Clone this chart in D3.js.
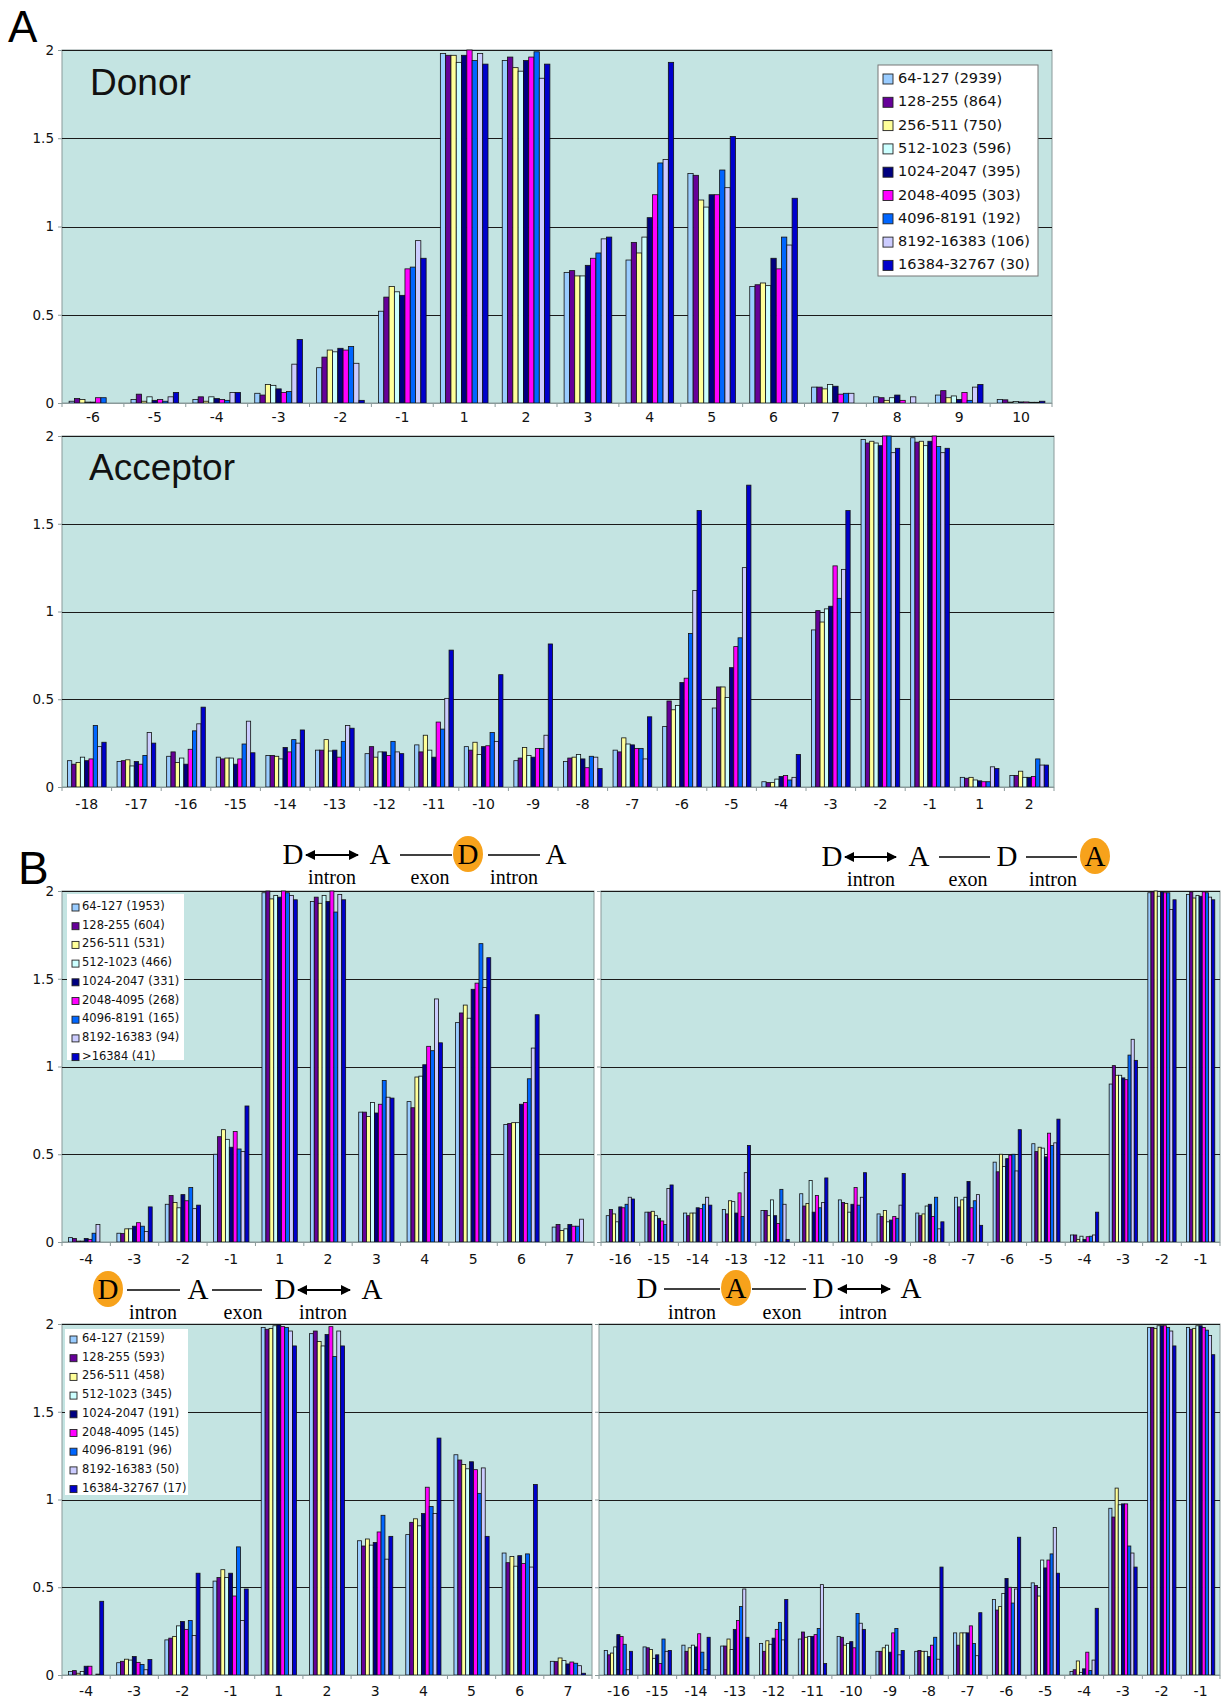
<!DOCTYPE html>
<html>
<head>
<meta charset="utf-8">
<script src="https://cdn.jsdelivr.net/npm/d3@7"></script>
<style>
  body { margin: 0; background: #fff; }
  svg { display: block; }
</style>
</head>
<body>
<div id="chart"></div>
<script>
// series colours (Excel palette of the original figure)
var colors = ["#99ccff", "#660099", "#ffff99", "#ccffff", "#000080", "#ff00ff", "#0066ff", "#ccccff", "#0000cc"];

var legendA = ["64-127 (2939)", "128-255 (864)", "256-511 (750)", "512-1023 (596)", "1024-2047 (395)",
  "2048-4095 (303)", "4096-8191 (192)", "8192-16383 (106)", "16384-32767 (30)"];
var legendB1 = ["64-127 (1953)", "128-255 (604)", "256-511 (531)", "512-1023 (466)", "1024-2047 (331)",
  "2048-4095 (268)", "4096-8191 (165)", "8192-16383 (94)", ">16384 (41)"];
var legendB3 = ["64-127 (2159)", "128-255 (593)", "256-511 (458)", "512-1023 (345)", "1024-2047 (191)",
  "2048-4095 (145)", "4096-8191 (96)", "8192-16383 (50)", "16384-32767 (17)"];

var yTicks = [0, 0.5, 1, 1.5, 2];

// A - donor
var donorCats = ["-6", "-5", "-4", "-3", "-2", "-1", "1", "2", "3", "4", "5", "6", "7", "8", "9", "10"];
var donorVals = [
  [0.01, 0.025, 0.02, 0.005, 0.005, 0.03, 0.03, 0.0, 0.0],
  [0.02, 0.05, 0.01, 0.035, 0.015, 0.02, 0.01, 0.035, 0.06],
  [0.02, 0.035, 0.01, 0.035, 0.025, 0.02, 0.015, 0.06, 0.06],
  [0.055, 0.045, 0.105, 0.1, 0.08, 0.06, 0.065, 0.22, 0.36],
  [0.2, 0.26, 0.3, 0.29, 0.31, 0.3, 0.32, 0.225, 0.015],
  [0.52, 0.6, 0.66, 0.63, 0.61, 0.76, 0.77, 0.92, 0.82],
  [1.98, 1.97, 1.97, 1.93, 1.97, 2.0, 1.94, 1.98, 1.92],
  [1.94, 1.96, 1.9, 1.88, 1.94, 1.96, 1.99, 1.84, 1.92],
  [0.74, 0.75, 0.72, 0.72, 0.78, 0.82, 0.85, 0.93, 0.94],
  [0.81, 0.91, 0.85, 0.94, 1.05, 1.18, 1.36, 1.38, 1.93],
  [1.3, 1.29, 1.15, 1.11, 1.18, 1.18, 1.32, 1.22, 1.51],
  [0.66, 0.67, 0.68, 0.665, 0.82, 0.76, 0.94, 0.895, 1.16],
  [0.09, 0.09, 0.08, 0.105, 0.095, 0.05, 0.055, 0.055, 0.0],
  [0.035, 0.03, 0.015, 0.03, 0.045, 0.015, 0.0, 0.035, 0.0],
  [0.045, 0.07, 0.03, 0.04, 0.02, 0.06, 0.015, 0.09, 0.105],
  [0.02, 0.018, 0.005, 0.008, 0.006, 0.006, 0.004, 0.004, 0.01]
];

// A - acceptor
var accCats = ["-18", "-17", "-16", "-15", "-14", "-13", "-12", "-11", "-10", "-9", "-8", "-7", "-6", "-5", "-4", "-3", "-2", "-1", "1", "2"];
var accVals = [
  [0.15, 0.13, 0.14, 0.17, 0.15, 0.16, 0.35, 0.23, 0.255],
  [0.145, 0.15, 0.155, 0.12, 0.145, 0.13, 0.18, 0.31, 0.25],
  [0.175, 0.2, 0.14, 0.165, 0.13, 0.215, 0.32, 0.36, 0.455],
  [0.17, 0.16, 0.165, 0.165, 0.13, 0.16, 0.245, 0.375, 0.195],
  [0.18, 0.18, 0.175, 0.16, 0.225, 0.2, 0.27, 0.25, 0.325],
  [0.21, 0.21, 0.27, 0.205, 0.21, 0.17, 0.26, 0.35, 0.335],
  [0.19, 0.23, 0.17, 0.2, 0.2, 0.18, 0.26, 0.2, 0.19],
  [0.24, 0.2, 0.295, 0.21, 0.17, 0.37, 0.33, 0.505, 0.78],
  [0.23, 0.21, 0.255, 0.185, 0.23, 0.235, 0.31, 0.26, 0.64],
  [0.15, 0.165, 0.225, 0.18, 0.17, 0.22, 0.22, 0.295, 0.815],
  [0.145, 0.165, 0.17, 0.185, 0.16, 0.11, 0.175, 0.17, 0.105],
  [0.21, 0.2, 0.28, 0.245, 0.24, 0.22, 0.22, 0.16, 0.40],
  [0.345, 0.49, 0.44, 0.465, 0.595, 0.62, 0.875, 1.12, 1.575],
  [0.45, 0.57, 0.57, 0.51, 0.68, 0.80, 0.85, 1.25, 1.72],
  [0.03, 0.025, 0.025, 0.045, 0.06, 0.065, 0.04, 0.055, 0.185],
  [0.895, 1.005, 0.94, 1.015, 1.03, 1.26, 1.075, 1.24, 1.575],
  [1.98, 1.96, 1.97, 1.96, 1.945, 2.0, 2.0, 1.905, 1.93],
  [1.99, 1.965, 1.97, 1.945, 1.97, 2.0, 1.94, 1.905, 1.93],
  [0.055, 0.05, 0.055, 0.04, 0.035, 0.03, 0.03, 0.115, 0.105],
  [0.065, 0.065, 0.09, 0.055, 0.055, 0.06, 0.16, 0.125, 0.125]
];

// B - donor side (top left / bottom left)
var bDonorCats = ["-4", "-3", "-2", "-1", "1", "2", "3", "4", "5", "6", "7"];
var b1Vals = [
  [0.025, 0.02, 0.005, 0.005, 0.02, 0.015, 0.05, 0.1, 0.0],
  [0.05, 0.048, 0.075, 0.075, 0.09, 0.11, 0.09, 0.06, 0.2],
  [0.215, 0.265, 0.225, 0.195, 0.27, 0.235, 0.31, 0.19, 0.21],
  [0.5, 0.6, 0.64, 0.585, 0.54, 0.63, 0.53, 0.515, 0.775],
  [1.99, 2.0, 1.955, 1.975, 1.965, 2.0, 1.99, 1.975, 1.95],
  [1.94, 1.965, 1.93, 1.975, 1.94, 2.0, 1.88, 1.98, 1.95],
  [0.74, 0.74, 0.715, 0.795, 0.735, 0.785, 0.92, 0.825, 0.82],
  [0.8, 0.765, 0.94, 0.945, 1.01, 1.115, 1.09, 1.385, 1.135],
  [1.25, 1.305, 1.35, 1.275, 1.44, 1.475, 1.70, 1.45, 1.62],
  [0.67, 0.675, 0.68, 0.68, 0.785, 0.795, 0.93, 1.105, 1.295],
  [0.085, 0.1, 0.065, 0.075, 0.1, 0.09, 0.09, 0.13, 0.0]
];
var b3Vals = [
  [0.02, 0.025, 0.01, 0.02, 0.05, 0.05, 0.0, 0.005, 0.42],
  [0.07, 0.078, 0.09, 0.085, 0.105, 0.072, 0.06, 0.03, 0.088],
  [0.2, 0.21, 0.22, 0.28, 0.305, 0.26, 0.31, 0.225, 0.58],
  [0.535, 0.555, 0.6, 0.555, 0.58, 0.45, 0.73, 0.31, 0.49],
  [1.98, 1.97, 1.975, 1.99, 1.995, 1.985, 1.98, 1.96, 1.875],
  [1.945, 1.96, 1.9, 1.875, 1.94, 1.985, 1.815, 1.96, 1.875],
  [0.765, 0.735, 0.775, 0.74, 0.755, 0.815, 0.91, 0.66, 0.79],
  [0.8, 0.87, 0.89, 0.85, 0.92, 1.07, 0.96, 0.92, 1.35],
  [1.255, 1.225, 1.2, 1.175, 1.215, 1.17, 1.035, 1.18, 0.79],
  [0.695, 0.64, 0.675, 0.62, 0.68, 0.635, 0.69, 0.615, 1.085],
  [0.078, 0.076, 0.097, 0.082, 0.063, 0.074, 0.067, 0.053, 0.01]
];

// B - acceptor side (top right / bottom right)
var bAccCats = ["-16", "-15", "-14", "-13", "-12", "-11", "-10", "-9", "-8", "-7", "-6", "-5", "-4", "-3", "-2", "-1"];
var b2Vals = [
  [0.15, 0.185, 0.16, 0.115, 0.2, 0.195, 0.215, 0.255, 0.245],
  [0.17, 0.17, 0.175, 0.15, 0.135, 0.12, 0.1, 0.305, 0.325],
  [0.165, 0.15, 0.165, 0.165, 0.195, 0.19, 0.215, 0.255, 0.21],
  [0.185, 0.16, 0.235, 0.23, 0.165, 0.28, 0.145, 0.395, 0.55],
  [0.18, 0.18, 0.15, 0.24, 0.15, 0.105, 0.3, 0.215, 0.015],
  [0.275, 0.205, 0.22, 0.35, 0.17, 0.265, 0.195, 0.225, 0.365],
  [0.24, 0.225, 0.22, 0.17, 0.215, 0.31, 0.21, 0.255, 0.395],
  [0.16, 0.145, 0.18, 0.115, 0.125, 0.145, 0.135, 0.21, 0.39],
  [0.165, 0.15, 0.16, 0.205, 0.215, 0.145, 0.255, 0.075, 0.115],
  [0.255, 0.2, 0.24, 0.255, 0.345, 0.195, 0.235, 0.27, 0.095],
  [0.455, 0.4, 0.5, 0.43, 0.475, 0.495, 0.5, 0.405, 0.64],
  [0.56, 0.515, 0.54, 0.535, 0.485, 0.62, 0.55, 0.565, 0.7],
  [0.04, 0.04, 0.015, 0.033, 0.015, 0.03, 0.033, 0.04, 0.17],
  [0.9, 1.005, 0.95, 0.95, 0.935, 0.925, 1.065, 1.155, 1.035],
  [1.99, 1.995, 2.0, 1.97, 1.995, 1.99, 1.99, 1.895, 1.95],
  [1.98, 1.995, 1.96, 1.975, 1.97, 1.995, 1.99, 1.965, 1.95]
];
var b4Vals = [
  [0.14, 0.115, 0.125, 0.16, 0.23, 0.22, 0.175, 0.03, 0.135],
  [0.16, 0.155, 0.145, 0.095, 0.115, 0.065, 0.205, 0.135, 0.14],
  [0.17, 0.135, 0.155, 0.17, 0.16, 0.235, 0.13, 0.03, 0.215],
  [0.165, 0.165, 0.205, 0.145, 0.26, 0.31, 0.39, 0.49, 0.215],
  [0.18, 0.135, 0.195, 0.175, 0.21, 0.26, 0.3, 0.2, 0.43],
  [0.205, 0.245, 0.215, 0.22, 0.22, 0.23, 0.265, 0.515, 0.065],
  [0.22, 0.215, 0.17, 0.18, 0.19, 0.155, 0.35, 0.295, 0.26],
  [0.135, 0.135, 0.155, 0.17, 0.13, 0.24, 0.265, 0.115, 0.14],
  [0.135, 0.14, 0.135, 0.135, 0.105, 0.17, 0.215, 0.09, 0.615],
  [0.24, 0.17, 0.24, 0.24, 0.24, 0.28, 0.18, 0.11, 0.355],
  [0.43, 0.37, 0.39, 0.465, 0.55, 0.5, 0.41, 0.49, 0.785],
  [0.525, 0.51, 0.45, 0.655, 0.61, 0.655, 0.69, 0.84, 0.58],
  [0.02, 0.03, 0.08, 0.015, 0.035, 0.13, 0.025, 0.085, 0.38],
  [0.95, 0.9, 1.065, 0.97, 0.975, 0.975, 0.735, 0.695, 0.615],
  [1.98, 1.98, 1.975, 1.99, 1.99, 1.99, 1.98, 1.96, 1.875],
  [1.98, 1.97, 1.975, 1.99, 1.99, 1.98, 1.965, 1.935, 1.825]
];

var W = 1221, H = 1699;
var svg = d3.select("#chart").append("svg")
  .attr("width", W).attr("height", H)
  .style("background", "#fff");

var tickFont = "DejaVu Sans, Verdana, sans-serif";

function drawPanel(opt) {
  var g = svg.append("g").attr("transform", "translate(" + opt.x + "," + opt.y + ")");
  var w = opt.w, h = opt.h;

  var x = d3.scaleBand().domain(opt.cats).range([0, w])
    .paddingInner(opt.gap).paddingOuter(opt.gap / 2);
  var xs = d3.scaleBand().domain(d3.range(9)).range([0, x.bandwidth()]);
  var y = d3.scaleLinear().domain([0, 2]).range([h, 0]);

  g.append("rect").attr("width", w).attr("height", h)
    .attr("fill", "#c4e4e2").attr("stroke", "#8a9a9a").attr("stroke-width", 1);

  g.selectAll(".grid").data(yTicks.slice(1)).enter().append("line")
    .attr("x1", 0).attr("x2", w)
    .attr("y1", function(d) { return Math.round(y(d)) + 0.5; })
    .attr("y2", function(d) { return Math.round(y(d)) + 0.5; })
    .attr("stroke", "#1a1a1a").attr("stroke-width", 1.1);

  var groups = g.selectAll(".grp").data(opt.vals).enter().append("g")
    .attr("transform", function(d, i) { return "translate(" + x(opt.cats[i]) + ",0)"; });

  groups.selectAll("rect").data(function(d) { return d; }).enter().append("rect")
    .attr("x", function(d, i) { return xs(i); })
    .attr("y", function(d) { return y(d); })
    .attr("width", xs.bandwidth())
    .attr("height", function(d) { return h - y(d); })
    .attr("fill", function(d, i) { return colors[i]; })
    .attr("stroke", "#111")
    .attr("stroke-width", 0.8);

  // bottom axis line with category boundary ticks
  g.append("line").attr("x1", 0).attr("x2", w).attr("y1", h + 0.5).attr("y2", h + 0.5)
    .attr("stroke", "#8a9a9a").attr("stroke-width", 1.2);
  g.selectAll(".xt").data(d3.range(opt.cats.length + 1)).enter().append("line")
    .attr("x1", function(i) { return i * x.step(); })
    .attr("x2", function(i) { return i * x.step(); })
    .attr("y1", h).attr("y2", h + 4)
    .attr("stroke", "#8a9a9a");

  var xa = g.append("g").attr("transform", "translate(0," + h + ")")
    .call(d3.axisBottom(x).tickSize(0).tickPadding(opt.labelPad));
  xa.select(".domain").remove();
  xa.selectAll("text").attr("font-family", tickFont).attr("font-size", 14).attr("fill", "#111");

  var ya = g.append("g")
    .call(d3.axisLeft(y).tickValues(yTicks).tickSize(4).tickPadding(4)
      .tickFormat(function(d) { return opt.yLabels ? String(d) : ""; }));
  ya.select(".domain").remove();
  ya.selectAll("line").attr("stroke", "#8a9a9a");
  ya.selectAll("text").attr("font-family", tickFont).attr("font-size", 13.5).attr("fill", "#111");

  if (opt.title) {
    g.append("text").attr("x", opt.title.x).attr("y", opt.title.y)
      .attr("font-family", "Liberation Sans, Arial, sans-serif").attr("font-size", 37)
      .attr("fill", "#111").text(opt.title.text);
  }

  if (opt.legend) {
    var L = opt.legend;
    var lg = g.append("g").attr("transform", "translate(" + L.x + "," + L.y + ")");
    lg.append("rect").attr("width", L.w).attr("height", L.h)
      .attr("fill", "#fff").attr("stroke", L.border ? "#777" : "none");
    var items = lg.selectAll(".it").data(L.labels).enter().append("g")
      .attr("transform", function(d, i) { return "translate(0," + (L.top + i * L.step) + ")"; });
    items.append("rect")
      .attr("x", L.sx).attr("y", -L.ss + 1).attr("width", L.ss).attr("height", L.ss)
      .attr("fill", function(d, i) { return colors[i]; })
      .attr("stroke", "#222").attr("stroke-width", 0.9);
    items.append("text").attr("x", L.tx).attr("y", 0)
      .attr("font-family", tickFont).attr("font-size", L.fs).attr("fill", "#111")
      .text(function(d) { return d; });
  }
}

// panel letters
svg.append("text").attr("x", 8).attr("y", 42).attr("font-family", "Liberation Sans, Arial, sans-serif")
  .attr("font-size", 44).attr("fill", "#000").text("A");
svg.append("text").attr("x", 18).attr("y", 884).attr("font-family", "Liberation Sans, Arial, sans-serif")
  .attr("font-size", 46).attr("fill", "#000").text("B");

drawPanel({ x: 62, y: 50, w: 990, h: 353, cats: donorCats, vals: donorVals, gap: 0.23, yLabels: true, labelPad: 9,
  title: { x: 28, y: 45, text: "Donor" },
  legend: { x: 816, y: 15, w: 160, h: 211, top: 18, step: 23.3, sx: 5, ss: 10, tx: 20, fs: 14.5, labels: legendA, border: true } });

drawPanel({ x: 62, y: 436, w: 992, h: 351, cats: accCats, vals: accVals, gap: 0.22, yLabels: true, labelPad: 12,
  title: { x: 27, y: 44, text: "Acceptor" } });

drawPanel({ x: 62, y: 891, w: 532, h: 351, cats: bDonorCats, vals: b1Vals, gap: 0.27, yLabels: true, labelPad: 12,
  legend: { x: 5, y: 3, w: 117, h: 166, top: 16, step: 18.7, sx: 5, ss: 7, tx: 15, fs: 11.5, labels: legendB1, border: false } });

drawPanel({ x: 601, y: 891, w: 619, h: 351, cats: bAccCats, vals: b2Vals, gap: 0.27, yLabels: false, labelPad: 12 });

drawPanel({ x: 62, y: 1324, w: 530, h: 351, cats: bDonorCats, vals: b3Vals, gap: 0.27, yLabels: true, labelPad: 11,
  legend: { x: 3, y: 5, w: 123, h: 166, top: 13, step: 18.7, sx: 5, ss: 7, tx: 17, fs: 11.5, labels: legendB3, border: false } });

drawPanel({ x: 599, y: 1324, w: 621, h: 351, cats: bAccCats, vals: b4Vals, gap: 0.27, yLabels: false, labelPad: 11 });

// splice-site diagrams
var defs = svg.append("defs");
defs.append("marker").attr("id", "ah").attr("viewBox", "0 0 10 10")
  .attr("refX", 9).attr("refY", 5).attr("markerWidth", 5).attr("markerHeight", 5)
  .attr("orient", "auto-start-reverse")
  .append("path").attr("d", "M0,0 L10,5 L0,10 z").attr("fill", "#000");

function diagram(spec) {
  var g = svg.append("g");
  spec.letters.forEach(function(l) {
    if (l.hl) {
      g.append("ellipse").attr("cx", l.x).attr("cy", spec.ly - 10).attr("rx", 15).attr("ry", 18)
        .attr("fill", "#f7a21b");
    }
    g.append("text").attr("x", l.x).attr("y", spec.ly).attr("text-anchor", "middle")
      .attr("font-family", "Liberation Serif, Times New Roman, serif").attr("font-size", 29)
      .attr("fill", "#000").text(l.t);
  });
  spec.links.forEach(function(k) {
    var ln = g.append("line").attr("x1", k.x1).attr("x2", k.x2)
      .attr("y1", spec.ly - 9).attr("y2", spec.ly - 9)
      .attr("stroke", "#000").attr("stroke-width", k.arrow ? 2 : 1.4);
    if (k.arrow) ln.attr("marker-start", "url(#ah)").attr("marker-end", "url(#ah)");
  });
  spec.words.forEach(function(wd) {
    g.append("text").attr("x", wd.x).attr("y", spec.wy).attr("text-anchor", "middle")
      .attr("font-family", "Liberation Serif, Times New Roman, serif").attr("font-size", 20)
      .attr("fill", "#000").text(wd.t);
  });
}

diagram({ ly: 864, wy: 884,
  letters: [{ t: "D", x: 293 }, { t: "A", x: 380 }, { t: "D", x: 468, hl: true }, { t: "A", x: 556 }],
  links: [{ x1: 306, x2: 358, arrow: true }, { x1: 400, x2: 452 }, { x1: 488, x2: 540 }],
  words: [{ t: "intron", x: 332 }, { t: "exon", x: 430 }, { t: "intron", x: 514 }] });

diagram({ ly: 866, wy: 886,
  letters: [{ t: "D", x: 832 }, { t: "A", x: 919 }, { t: "D", x: 1007 }, { t: "A", x: 1095, hl: true }],
  links: [{ x1: 845, x2: 896, arrow: true }, { x1: 939, x2: 990 }, { x1: 1026, x2: 1077 }],
  words: [{ t: "intron", x: 871 }, { t: "exon", x: 968 }, { t: "intron", x: 1053 }] });

diagram({ ly: 1299, wy: 1319,
  letters: [{ t: "D", x: 108, hl: true }, { t: "A", x: 198 }, { t: "D", x: 285 }, { t: "A", x: 372 }],
  links: [{ x1: 127, x2: 180 }, { x1: 212, x2: 262 }, { x1: 298, x2: 350, arrow: true }],
  words: [{ t: "intron", x: 153 }, { t: "exon", x: 243 }, { t: "intron", x: 323 }] });

diagram({ ly: 1298, wy: 1319,
  letters: [{ t: "D", x: 647 }, { t: "A", x: 736, hl: true }, { t: "D", x: 823 }, { t: "A", x: 911 }],
  links: [{ x1: 664, x2: 720 }, { x1: 752, x2: 806 }, { x1: 838, x2: 890, arrow: true }],
  words: [{ t: "intron", x: 692 }, { t: "exon", x: 782 }, { t: "intron", x: 863 }] });
</script>
</body>
</html>
